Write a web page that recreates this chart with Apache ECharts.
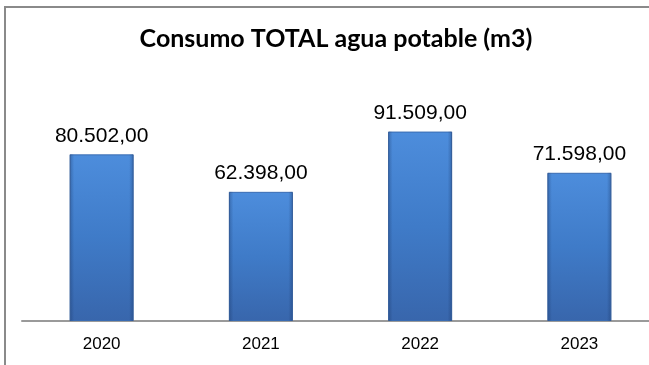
<!DOCTYPE html>
<html>
<head>
<meta charset="utf-8">
<style>
  html, body { margin: 0; padding: 0; background: #ffffff; }
  #chart { width: 649px; height: 365px; }
</style>
<script src="https://cdn.jsdelivr.net/npm/echarts@6/dist/echarts.min.js"></script>
</head>
<body>
<div id="chart"></div>
<script>
// Annual drinking-water consumption (m3)
const years = ['2020', '2021', '2022', '2023'];
const consumption = [80502, 62398, 91509, 71598];
const chartTitle = 'Consumo TOTAL agua potable (m3)';

// Spanish number format: thousands with '.', decimals with ','
function fmtEs(v) {
  const parts = v.toFixed(2).split('.');
  parts[0] = parts[0].replace(/\B(?=(\d{3})+(?!\d))/g, '.');
  return parts.join(',');
}

const chart = echarts.init(document.getElementById('chart'), null, { renderer: 'canvas' });

chart.setOption({
  animation: false,
  backgroundColor: '#ffffff',
  title: {
    text: chartTitle,
    left: 331,
    textAlign: 'center',
    top: 21,
    textStyle: {
      fontFamily: 'Lato',
      fontWeight: 'bold',
      fontSize: 25,
      color: '#000000'
    }
  },
  graphic: [{
    // frame: left and top edges of the chart box
    type: 'polyline',
    shape: { points: [[5, 380], [5, 7], [660, 7]] },
    style: { fill: 'none', stroke: '#8a8a8a', lineWidth: 2 },
    silent: true
  }],
  grid: {
    left: 22, width: 637, top: 114, height: 207,
    containLabel: false,
    outerBoundsMode: 'none'
  },
  xAxis: {
    type: 'category',
    data: years,
    axisTick: { show: false },
    axisLine: { lineStyle: { color: '#9a9a9a', width: 2 } },
    axisLabel: {
      margin: 15,
      fontFamily: 'Liberation Sans',
      fontSize: 17,
      color: '#000000'
    }
  },
  yAxis: {
    type: 'value',
    min: 0,
    max: 100000,
    show: false
  },
  series: [{
    type: 'bar',
    data: consumption,
    barWidth: 64,
    itemStyle: {
      color: new echarts.graphic.LinearGradient(0, 0, 0, 1, [
        { offset: 0, color: '#4d8ddc' },
        { offset: 0.5, color: '#3f7bc8' },
        { offset: 1, color: '#3866ac' }
      ]),
      borderColor: '#3a6cb2',
      borderWidth: 1
    },
    label: {
      show: true,
      position: 'top',
      distance: 8,
      fontFamily: 'Liberation Sans',
      fontSize: 21,
      color: '#000000',
      formatter: p => fmtEs(p.value)
    }
  }, {
    // bevel shading on the bar edges
    type: 'bar',
    data: consumption,
    barWidth: 64,
    barGap: '-100%',
    silent: true,
    itemStyle: {
      color: new echarts.graphic.LinearGradient(0, 0, 1, 0, [
        { offset: 0, color: 'rgba(20,45,90,0.35)' },
        { offset: 0.07, color: 'rgba(20,45,90,0)' },
        { offset: 0.93, color: 'rgba(20,45,90,0)' },
        { offset: 1, color: 'rgba(20,45,90,0.35)' }
      ])
    }
  }]
});
</script>
</body>
</html>
